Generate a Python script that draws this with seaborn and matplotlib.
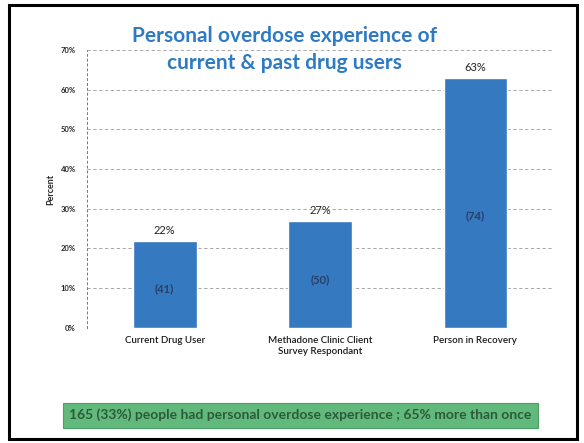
import matplotlib
matplotlib.use("Agg")
import matplotlib.pyplot as plt
import matplotlib.ticker as ticker
from matplotlib.patches import Rectangle
import seaborn as sns
import pandas as pd

# data
categories = ["Current Drug User", "Methadone Clinic Client\nSurvey Respondant", "Person in Recovery"]
percents = [22, 27, 63]
counts = [41, 50, 74]
yticks = [0, 10, 20, 30, 40, 50, 60, 70]

df = pd.DataFrame({"group": categories, "pct": percents})

sns.set_style("white")
plt.rcParams["font.family"] = ["Lato", "DejaVu Sans"]

fig = plt.figure(figsize=(5.84, 4.43), dpi=100)
ax = fig.add_axes([0.149, 0.26, 0.798, 0.627])

sns.barplot(data=df, x="group", y="pct", color="#3579C0", width=0.41,
            saturation=1, ax=ax)

ax.set_ylim(0, 70)
ax.set_yticks(yticks)
ax.yaxis.set_major_formatter(ticker.FuncFormatter(lambda v, _: f"{v:.0f}%"))
ax.set_xlim(-0.5, 2.5)

# dashed grid lines
ax.set_axisbelow(True)
ax.yaxis.grid(True, linestyle=(0, (4, 3)), color="#9a9a9a", linewidth=0.6)
for s in ["top", "right", "bottom"]:
    ax.spines[s].set_visible(False)
ax.spines["left"].set_linestyle((0, (2, 3)))
ax.spines["left"].set_color("#777777")
ax.spines["left"].set_linewidth(0.7)

ax.tick_params(axis="y", labelsize=5.5, length=0, pad=8)
ax.tick_params(axis="x", labelsize=7, length=0, pad=6)
for lbl in ax.get_yticklabels():
    lbl.set_fontweight("bold")
for lbl in ax.get_xticklabels():
    lbl.set_color("#1a1a1a")
    lbl.set_fontweight("semibold")

ax.set_xlabel("")
ax.set_ylabel("Percent", fontsize=6.5, fontweight="bold", labelpad=4)

# value labels above and counts inside the bars
for i, (p, c) in enumerate(zip(percents, counts)):
    ax.text(i, p + 1.2, f"{p}%", ha="center", va="bottom", fontsize=8, color="#222222")
    ax.text(i, p * 0.45, f"({c})", ha="center", va="center", fontsize=8,
            fontweight="bold", color="#2a3f66")

# title
fig.text(0.487, 0.888, "Personal overdose experience of\ncurrent & past drug users",
         ha="center", va="center", fontsize=15, fontweight="bold",
         color="#2E7BC4", linespacing=1.45)

# green note box
fig.text(0.514, 0.063, "165 (33%) people had personal overdose experience ; 65% more than once",
         ha="center", va="center", fontsize=10, fontweight="bold", color="#2d5a3a",
         bbox=dict(boxstyle="square,pad=0.45", facecolor="#62B97C", edgecolor="#4e9e68",
                   linewidth=0.8))

# outer frame
fig.patches.append(Rectangle((0.016, 0.008), 0.972, 0.98, transform=fig.transFigure,
                             fill=False, edgecolor="black", linewidth=2.2))

fig.savefig("out.png", dpi=100)
